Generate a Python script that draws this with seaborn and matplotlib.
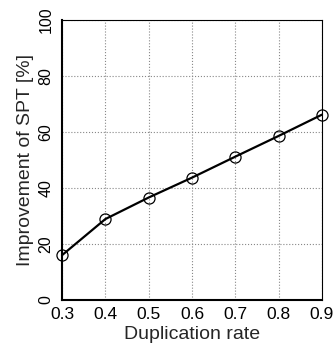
import matplotlib
matplotlib.use("Agg")
import matplotlib.pyplot as plt
import seaborn as sns
import pandas as pd

# data
duplication_rate = [0.3, 0.4, 0.5, 0.6, 0.7, 0.8, 0.9]
improvement = [16.0, 28.9, 36.6, 43.7, 51.2, 58.6, 66.2]
y_ticks = [0, 20, 40, 60, 80, 100]

df = pd.DataFrame({"rate": duplication_rate, "imp": improvement})

sns.set_style("white")
plt.rcParams['font.family'] = ['Liberation Sans', 'DejaVu Sans']

fig = plt.figure(figsize=(3.33, 3.43), dpi=100)
ax = fig.add_axes([62 / 333, 43 / 343, 260 / 333, 280 / 343])

sns.lineplot(data=df, x="rate", y="imp", ax=ax, color="black", linewidth=1.6,
             marker="o", markersize=8, markerfacecolor="none",
             markeredgecolor="black", markeredgewidth=0.9, clip_on=False)

ax.set_xlim(0.3, 0.9)
ax.set_ylim(0, 100)
ax.set_xticks(duplication_rate)
ax.set_yticks(y_ticks)
ax.set_yticklabels([str(t) for t in y_ticks], rotation=90, va="center")
ax.grid(True, linestyle=":", color="#888888", linewidth=0.8)
ax.tick_params(axis="both", length=3, width=0.8, direction="out", colors="black")
ax.tick_params(axis="x", labelsize=12.5, pad=2)
ax.tick_params(axis="y", labelsize=11.5, pad=3)

for side in ["left", "bottom"]:
    ax.spines[side].set_linewidth(1.5)
    ax.spines[side].set_color("black")
for side in ["top", "right"]:
    ax.spines[side].set_linewidth(0.8)
    ax.spines[side].set_color("black")

ax.set_xlabel("Duplication rate", fontsize=14, labelpad=3)
ax.set_ylabel("Improvement of SPT [%]", fontsize=14, labelpad=3)

fig.savefig("out.png", dpi=100)
